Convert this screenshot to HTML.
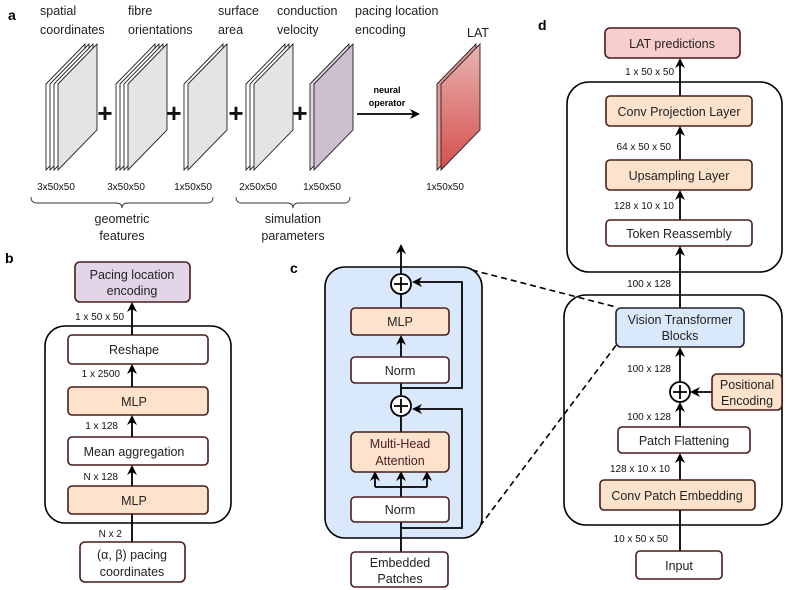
<!DOCTYPE html>
<html><head><meta charset="utf-8"><style>
html,body{margin:0;padding:0;background:#fff;}
svg{display:block;font-family:"Liberation Sans",sans-serif;}
.bx{stroke:#4a1c1c;stroke-width:1.6;}
.ct{fill:none;stroke:#000;stroke-width:1.6;}
.ln{stroke:#000;stroke-width:1.8;fill:none;}
.t{font-size:12.5px;fill:#222;text-anchor:middle;}
.s{font-size:10px;fill:#111;}
</style></head><body>
<svg width="793" height="590" viewBox="0 0 793 590" xmlns="http://www.w3.org/2000/svg">
<defs>
<marker id="ar" markerWidth="10" markerHeight="10" refX="8" refY="5" orient="auto" markerUnits="userSpaceOnUse"><path d="M0,0 L10,5 L0,10 L3,5 z" fill="#000"/></marker>
<linearGradient id="lat" x1="0" y1="0" x2="0" y2="1"><stop offset="0" stop-color="#e8b4b2"/><stop offset="1" stop-color="#d4504c"/></linearGradient>
</defs>

<!-- Panel a -->
<text x="8" y="20" font-size="14" font-weight="bold">a</text>
<g font-size="12.5" fill="#222">
<text x="40" y="15">spatial</text><text x="40" y="34">coordinates</text>
<text x="128" y="15">fibre</text><text x="128" y="34">orientations</text>
<text x="218" y="15">surface</text><text x="218" y="34">area</text>
<text x="277" y="15">conduction</text><text x="277" y="34">velocity</text>
<text x="355" y="15">pacing location</text><text x="355" y="34">encoding</text>
<text x="467" y="37">LAT</text>
</g>
<g stroke="#222" stroke-width="0.9">
<polygon points="46,84 85,44 85,130 46,170" fill="#fff"/>
<polygon points="50,84 89,44 89,130 50,170" fill="#fff"/>
<polygon points="54,84 93,44 93,130 54,170" fill="#fff"/>
<polygon points="58,84 97,44 97,130 58,170" fill="#e4e4e4"/>
<polygon points="116,84 155,44 155,130 116,170" fill="#fff"/>
<polygon points="120,84 159,44 159,130 120,170" fill="#fff"/>
<polygon points="124,84 163,44 163,130 124,170" fill="#fff"/>
<polygon points="128,84 167,44 167,130 128,170" fill="#e4e4e4"/>
<polygon points="184,84 223,44 223,130 184,170" fill="#fff"/>
<polygon points="188,84 227,44 227,130 188,170" fill="#e4e4e4"/>
<polygon points="246,84 285,44 285,130 246,170" fill="#fff"/>
<polygon points="250,84 289,44 289,130 250,170" fill="#fff"/>
<polygon points="254,84 293,44 293,130 254,170" fill="#e4e4e4"/>
<polygon points="310,84 349,44 349,130 310,170" fill="#e0d8e4"/>
<polygon points="314,84 353,44 353,130 314,170" fill="#cbbfd0"/>
<polygon points="437,84 476,44 476,130 437,170" fill="#e89a96"/>
<polygon points="441,84 480,44 480,130 441,170" fill="url(#lat)"/>
</g>
<g font-size="26" font-weight="bold" text-anchor="middle" fill="#111">
<text x="105" y="122">+</text><text x="174" y="122">+</text><text x="236" y="122">+</text><text x="300" y="122">+</text>
</g>
<text x="387" y="93" font-size="9" font-weight="bold" text-anchor="middle">neural</text>
<text x="387" y="106" font-size="9" font-weight="bold" text-anchor="middle">operator</text>
<line x1="357" y1="114" x2="418" y2="114" class="ln" marker-end="url(#ar)"/>
<g class="s" text-anchor="middle">
<text x="56" y="190">3x50x50</text><text x="126" y="190">3x50x50</text><text x="193" y="190">1x50x50</text>
<text x="258" y="190">2x50x50</text><text x="322" y="190">1x50x50</text><text x="445" y="190">1x50x50</text>
</g>
<path d="M31,197 q0,6 6,6 L116,203 q6,0 6,5 q0,-5 6,-5 L207,203 q6,0 6,-6" fill="none" stroke="#333" stroke-width="0.9"/>
<path d="M236,197 q0,6 6,6 L287,203 q6,0 6,5 q0,-5 6,-5 L344,203 q6,0 6,-6" fill="none" stroke="#333" stroke-width="0.9"/>
<g font-size="12.5" fill="#222" text-anchor="middle">
<text x="122" y="223">geometric</text><text x="122" y="240">features</text>
<text x="293" y="223">simulation</text><text x="293" y="240">parameters</text>
</g>

<!-- Panel b -->
<text x="5" y="263" font-size="14" font-weight="bold">b</text>
<rect x="45" y="326" width="186" height="197" rx="20" class="ct"/>
<rect x="75" y="262" width="115" height="40" rx="5" fill="#e1d5e7" class="bx"/>
<text class="t" x="132" y="279">Pacing location</text><text class="t" x="132" y="295">encoding</text>
<rect x="68" y="335" width="140" height="29" rx="4" fill="#fff" class="bx"/><text class="t" x="134" y="354">Reshape</text>
<rect x="68" y="387" width="140" height="28" rx="4" fill="#fde3cc" class="bx"/><text class="t" x="134" y="406">MLP</text>
<rect x="68" y="437" width="140" height="28" rx="4" fill="#fff" class="bx"/><text class="t" x="134" y="456">Mean aggregation</text>
<rect x="68" y="486" width="140" height="28" rx="4" fill="#fde3cc" class="bx"/><text class="t" x="134" y="505">MLP</text>
<rect x="80" y="542" width="105" height="40" rx="5" fill="#fff" class="bx"/>
<text class="t" x="132" y="559">(α, β) pacing</text><text class="t" x="132" y="576">coordinates</text>
<g class="ln">
<line x1="132" y1="335" x2="132" y2="304" marker-end="url(#ar)"/>
<line x1="132" y1="387" x2="132" y2="366" marker-end="url(#ar)"/>
<line x1="132" y1="437" x2="132" y2="417" marker-end="url(#ar)"/>
<line x1="132" y1="486" x2="132" y2="467" marker-end="url(#ar)"/>
<line x1="132" y1="542" x2="132" y2="514"/>
</g>
<g class="s" text-anchor="end">
<text x="124" y="320">1 x 50 x 50</text><text x="120" y="377">1 x 2500</text>
<text x="118" y="429">1 x 128</text><text x="118" y="480">N x 128</text><text x="122" y="537">N x 2</text>
</g>

<line x1="472" y1="270" x2="616" y2="307" stroke="#000" stroke-width="1.6" stroke-dasharray="6,4"/>
<line x1="480" y1="526" x2="617" y2="344" stroke="#000" stroke-width="1.6" stroke-dasharray="6,4"/>

<!-- Panel c -->
<text x="290" y="273" font-size="14" font-weight="bold">c</text>
<rect x="325" y="267" width="157" height="271" rx="20" fill="#dae8fc" stroke="#000" stroke-width="1.6"/>
<g class="ln">
<line x1="401" y1="552" x2="401" y2="520"/>
<line x1="401" y1="497" x2="401" y2="487"/>
<line x1="375" y1="487" x2="427" y2="487"/>
<line x1="375" y1="487" x2="375" y2="473" marker-end="url(#ar)"/>
<line x1="401" y1="487" x2="401" y2="473" marker-end="url(#ar)"/>
<line x1="427" y1="487" x2="427" y2="473" marker-end="url(#ar)"/>
<line x1="401" y1="432" x2="401" y2="416"/>
<line x1="401" y1="395" x2="401" y2="382"/>
<line x1="401" y1="357" x2="401" y2="337" marker-end="url(#ar)"/>
<line x1="401" y1="308" x2="401" y2="294"/>
<line x1="401" y1="274" x2="401" y2="246" marker-end="url(#ar)"/>
<polyline points="401,528 462,528 462,409 414,409" marker-end="url(#ar)"/>
<polyline points="401,388 462,388 462,282 414,282" marker-end="url(#ar)"/>
</g>
<circle cx="401" cy="284" r="10" fill="#fff" stroke="#000" stroke-width="1.8"/>
<path d="M394,284 H408 M401,277 V291" stroke="#000" stroke-width="1.8"/>
<circle cx="401" cy="406" r="10" fill="#fff" stroke="#000" stroke-width="1.8"/>
<path d="M394,406 H408 M401,399 V413" stroke="#000" stroke-width="1.8"/>
<rect x="351" y="308" width="98" height="27" rx="4" fill="#fde3cc" class="bx"/><text class="t" x="400" y="326">MLP</text>
<rect x="351" y="357" width="98" height="26" rx="4" fill="#fff" class="bx"/><text class="t" x="400" y="375">Norm</text>
<rect x="351" y="432" width="98" height="40" rx="5" fill="#fde3cc" class="bx"/>
<text class="t" x="400" y="448" style="fill:#4a1c1c">Multi-Head</text><text class="t" x="400" y="465" style="fill:#4a1c1c">Attention</text>
<rect x="351" y="497" width="98" height="25" rx="4" fill="#fff" class="bx"/><text class="t" x="400" y="514">Norm</text>
<rect x="351" y="552" width="97" height="35" rx="4" fill="#fff" class="bx"/>
<text class="t" x="400" y="567">Embedded</text><text class="t" x="400" y="583">Patches</text>

<!-- Panel d -->
<text x="538" y="30" font-size="14" font-weight="bold">d</text>
<rect x="567" y="82" width="215" height="190" rx="22" class="ct"/>
<rect x="564" y="295" width="218" height="230" rx="22" class="ct"/>
<g class="ln">
<line x1="680" y1="96" x2="680" y2="60" marker-end="url(#ar)"/>
<line x1="680" y1="160" x2="680" y2="128" marker-end="url(#ar)"/>
<line x1="680" y1="220" x2="680" y2="192" marker-end="url(#ar)"/>
<line x1="680" y1="308" x2="680" y2="248" marker-end="url(#ar)"/>
<line x1="680" y1="382" x2="680" y2="349" marker-end="url(#ar)"/>
<line x1="680" y1="427" x2="680" y2="404" marker-end="url(#ar)"/>
<line x1="680" y1="480" x2="680" y2="455" marker-end="url(#ar)"/>
<line x1="680" y1="551" x2="680" y2="510"/>
<line x1="712" y1="392" x2="692" y2="392" marker-end="url(#ar)"/>
</g>
<rect x="605" y="28" width="135" height="30" rx="5" fill="#f8cecc" class="bx"/><text class="t" x="672" y="48">LAT predictions</text>
<rect x="606" y="96" width="146" height="30" rx="4" fill="#fde3cc" class="bx"/><text class="t" x="679" y="116">Conv Projection Layer</text>
<rect x="606" y="160" width="146" height="30" rx="4" fill="#fde3cc" class="bx"/><text class="t" x="679" y="180">Upsampling Layer</text>
<rect x="606" y="220" width="146" height="26" rx="4" fill="#fff" class="bx"/><text class="t" x="679" y="238">Token Reassembly</text>
<rect x="616" y="308" width="128" height="39" rx="5" fill="#dae8fc" stroke="#222" stroke-width="1.6"/>
<text class="t" x="680" y="324">Vision Transformer</text><text class="t" x="680" y="340">Blocks</text>
<circle cx="680" cy="392" r="10" fill="#fff" stroke="#000" stroke-width="1.8"/>
<path d="M673,392 H687 M680,385 V399" stroke="#000" stroke-width="1.8"/>
<rect x="712" y="374" width="70" height="36" rx="5" fill="#fde3cc" class="bx"/>
<text class="t" x="747" y="389">Positional</text><text class="t" x="747" y="405">Encoding</text>
<rect x="618" y="427" width="132" height="26" rx="4" fill="#fff" class="bx"/><text class="t" x="684" y="445">Patch Flattening</text>
<rect x="600" y="480" width="155" height="30" rx="4" fill="#fde3cc" class="bx"/><text class="t" x="677" y="500">Conv Patch Embedding</text>
<rect x="636" y="551" width="86" height="28" rx="4" fill="#fff" class="bx"/><text class="t" x="679" y="570">Input</text>
<g class="s" text-anchor="end">
<text x="674" y="75">1 x 50 x 50</text><text x="671" y="150">64 x 50 x 50</text>
<text x="674" y="209">128 x 10 x 10</text><text x="671" y="287">100 x 128</text>
<text x="671" y="372">100 x 128</text><text x="671" y="420">100 x 128</text>
<text x="670" y="472">128 x 10 x 10</text><text x="668" y="542">10 x 50 x 50</text>
</g>
</svg>
</body></html>
